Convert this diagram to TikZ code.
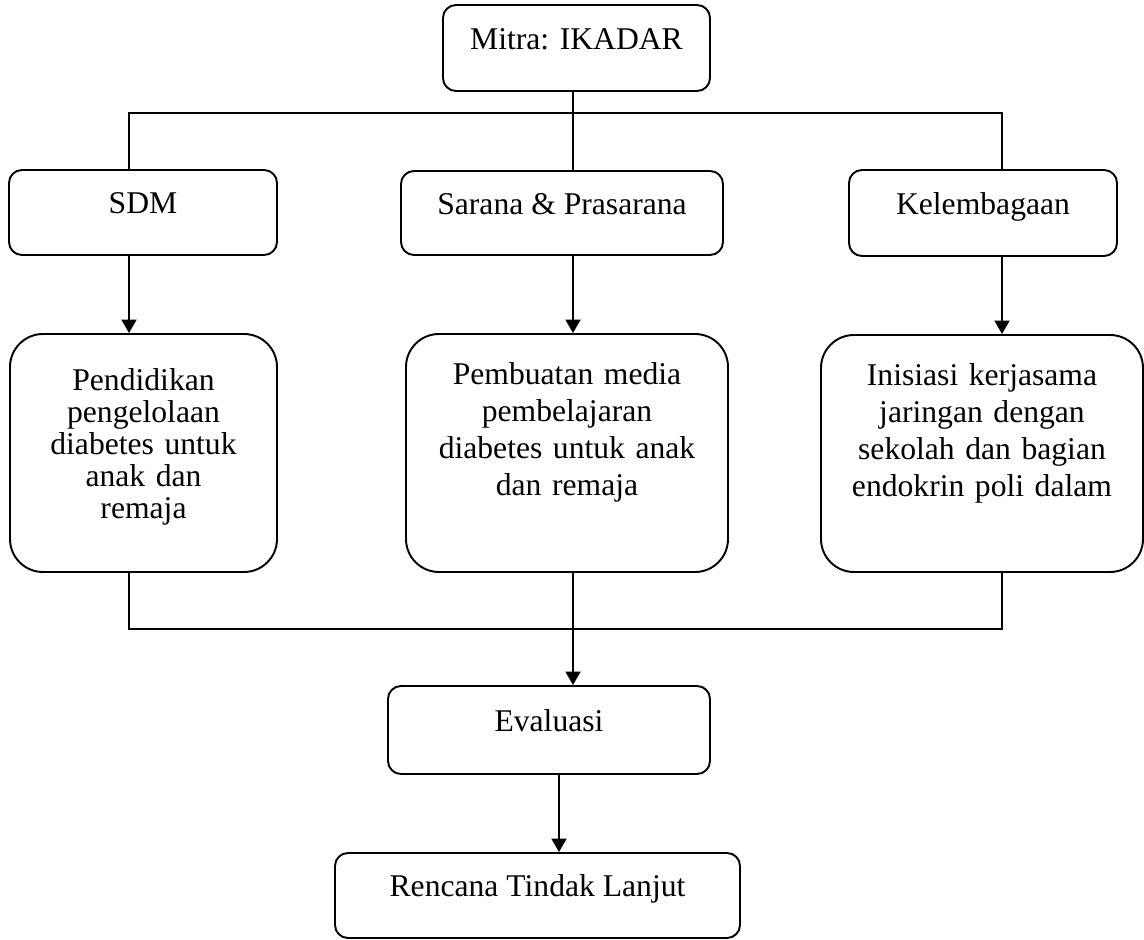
\documentclass[tikz,border=0pt]{standalone}
\usepackage{fontspec}
\setmainfont{Liberation Serif}
\usetikzlibrary{shapes.geometric, arrows.meta}
\tikzstyle{box} = [rectangle, rounded corners=0.26cm,
                   draw=black, line width=1.1pt, text centered,
                   text height=0.55cm, text depth=0.5cm]
\tikzstyle{bigbox} = [rectangle, rounded corners=0.66cm,
                      draw=black, line width=1.1pt, align=center,
                      text width=5.8cm, text height=0.5cm, text depth=3.22cm]
\tikzstyle{line} = [line width=0.9pt]
\tikzstyle{arrow} = [line width=1.1pt,-{Triangle[length=0.27cm,width=0.3cm]}]

\begin{document}
\begin{tikzpicture}[font=\fontsize{18}{21}\selectfont]
        \useasboundingbox (0,0) rectangle (22.88,-18.8);

        \node (mitra) [box, minimum width=5.34cm, minimum height=1.72cm] at (11.53,-0.96) {Mitra: IKADAR};

        %Aspects
        \node (sdm) [box, minimum width=5.36cm, minimum height=1.70cm] at (2.86,-4.25) {SDM};
        \node (sarana) [box, minimum width=6.44cm, minimum height=1.68cm] at (11.24,-4.26) {Sarana \& Prasarana};
        \node (lembaga) [box, minimum width=5.36cm, minimum height=1.72cm] at (19.66,-4.26) {Kelembagaan};

        %Activities
        \node (pendidikan) [bigbox, minimum width=5.34cm, minimum height=4.76cm, text width=4.5cm,
                            text depth=2.98cm, font=\fontsize{18}{18.2}\selectfont] at (2.87,-9.06)
              {Pendidikan\\ pengelolaan\\ diabetes untuk\\ anak dan\\ remaja};
        \node (media) [bigbox, minimum width=6.44cm, minimum height=4.76cm] at (11.34,-9.06)
              {Pembuatan media\\ pembelajaran\\ diabetes untuk anak\\ dan remaja};
        \node (kerjasama) [bigbox, minimum width=6.44cm, minimum height=4.74cm] at (19.64,-9.07)
              {Inisiasi kerjasama\\ jaringan dengan\\ sekolah dan bagian\\ endokrin poli dalam};

        %Follow up
        \node (evaluasi) [box, minimum width=6.44cm, minimum height=1.76cm] at (10.98,-14.6) {Evaluasi};
        \node (rtl) [box, minimum width=8.10cm, minimum height=1.70cm] at (10.75,-17.91) {Rencana Tindak Lanjut};

        %Columns and buses
        \coordinate (colL) at (2.58,0);
        \coordinate (colM) at (11.46,0);
        \coordinate (colR) at (20.04,0);
        \coordinate (colE) at (11.18,0);
        \coordinate (busTop) at (0,-2.26);
        \coordinate (busBot) at (0,-12.58);

        %Mitra to aspects
        \draw [line] (mitra.south -| colM) -- (sarana.north -| colM);
        \draw [line] (sdm.north -| colL) |- (busTop -| colR) -- (lembaga.north -| colR);

        %Aspects to activities
        \draw [arrow] (sdm.south -| colL) -- (pendidikan.north -| colL);
        \draw [arrow] (sarana.south -| colM) -- (media.north -| colM);
        \draw [arrow] (lembaga.south -| colR) -- (kerjasama.north -| colR);

        %Activities to evaluasi
        \draw [line] (pendidikan.south -| colL) |- (busBot -| colR) -- (kerjasama.south -| colR);
        \draw [arrow] (media.south -| colM) -- (evaluasi.north -| colM);

        %Evaluasi to RTL
        \draw [arrow] (evaluasi.south -| colE) -- (rtl.north -| colE);

\end{tikzpicture}
\end{document}
